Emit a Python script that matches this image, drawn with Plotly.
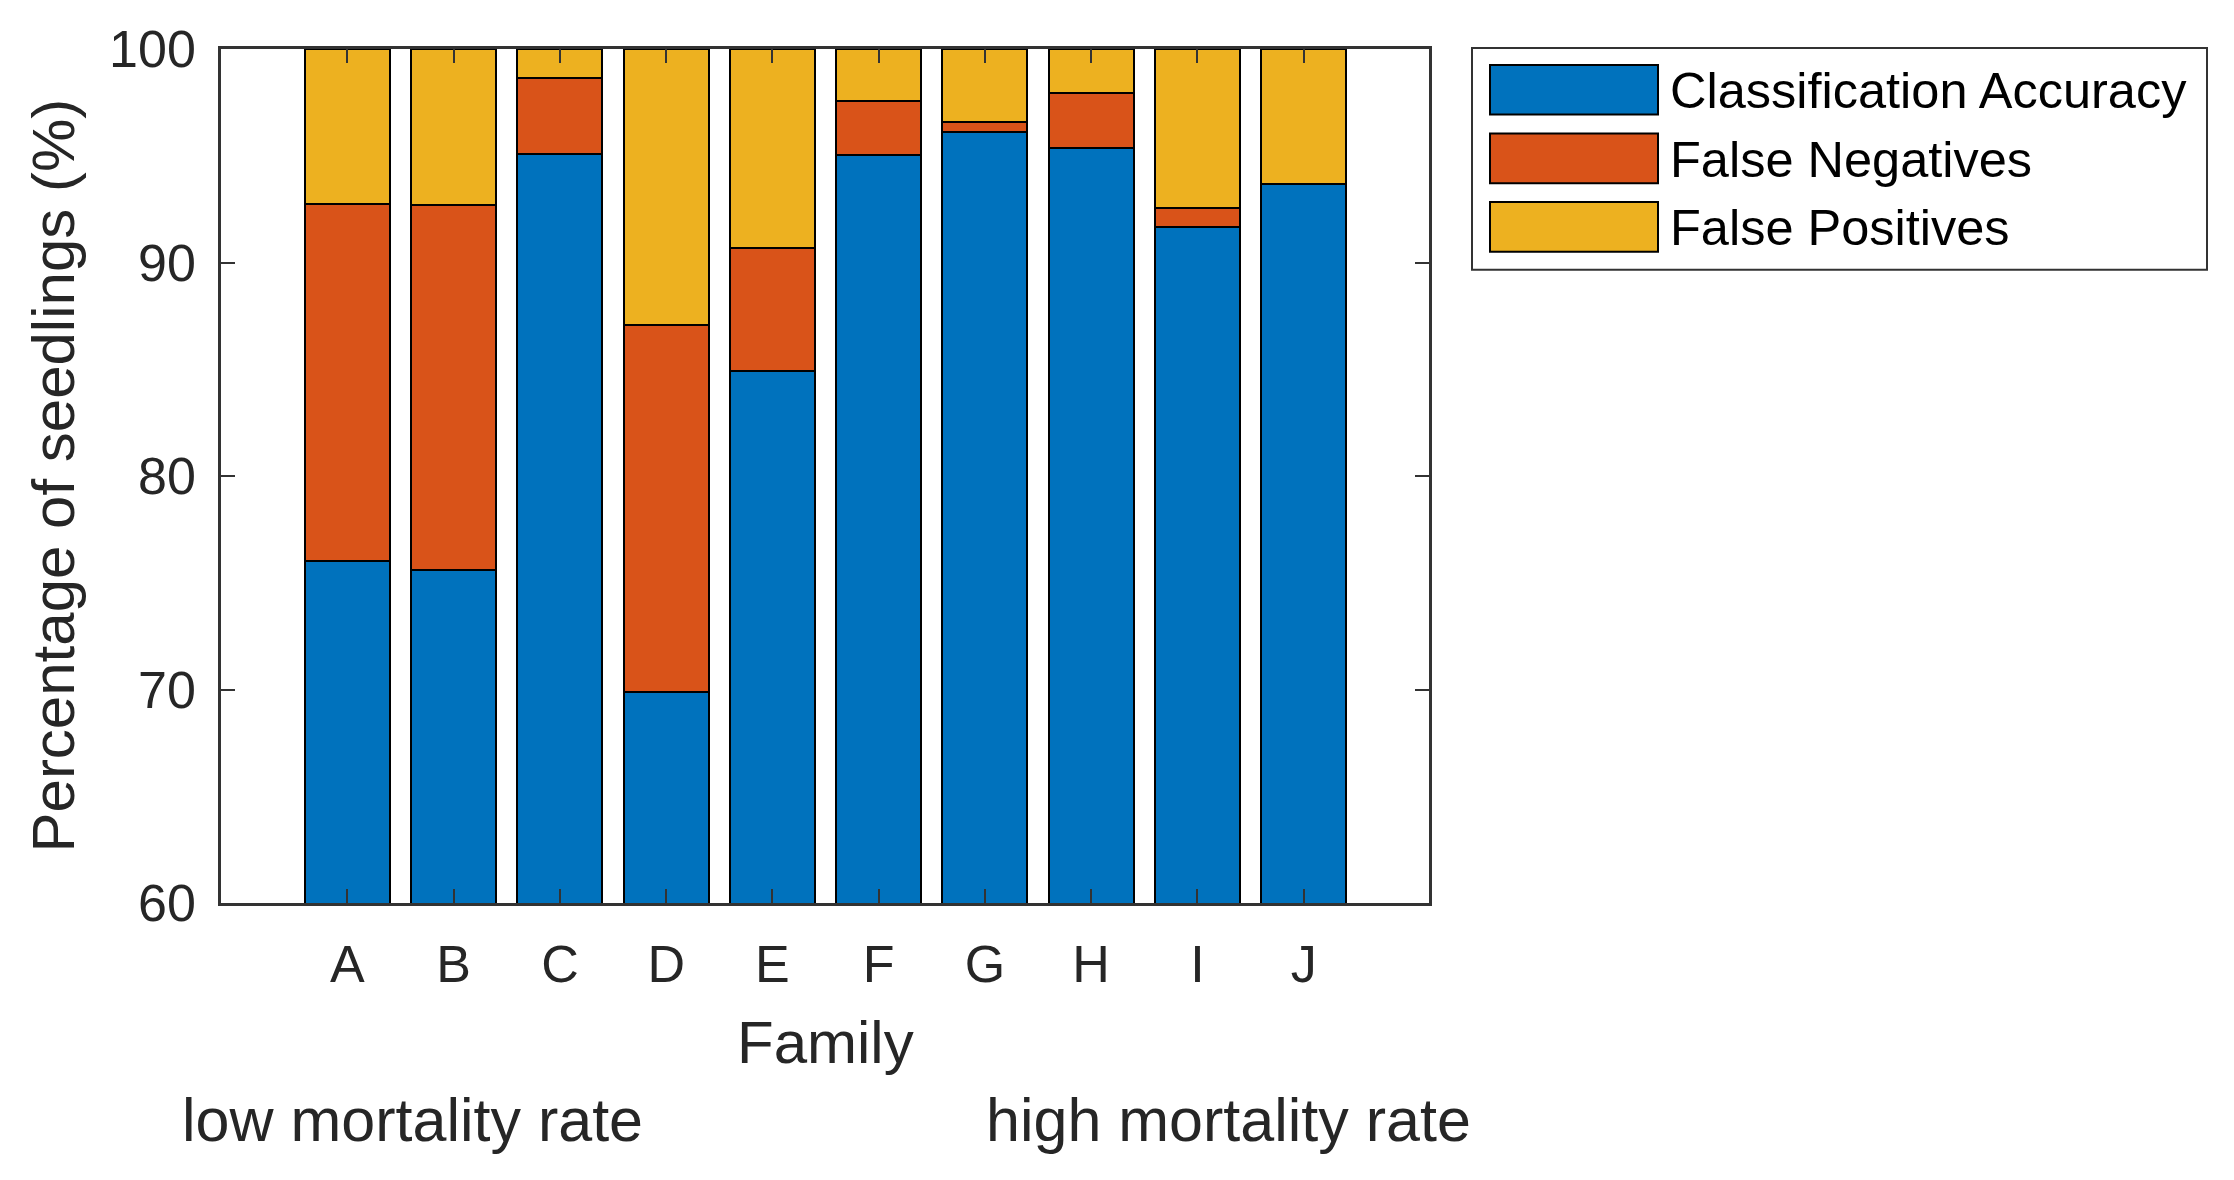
import plotly.graph_objects as go

# ---- data ----
families = ["A", "B", "C", "D", "E", "F", "G", "H", "I", "J"]
accuracy = [76.0, 75.6, 95.1, 69.9, 84.9, 95.05, 96.1, 95.35, 91.65, 93.7]
false_neg = [16.75, 17.1, 3.55, 17.15, 5.8, 2.5, 0.5, 2.6, 0.9, 0.0]
false_pos = [7.25, 7.3, 1.35, 12.95, 9.3, 2.45, 3.4, 2.05, 7.45, 6.3]
series_names = ["Classification Accuracy", "False Negatives", "False Positives"]
series_colors = ["#0072BD", "#D95319", "#EDB120"]
y_ticks = [60, 70, 80, 90, 100]
group_labels = ["low mortality rate", "high mortality rate"]

FONT = "Liberation Sans, Arial, sans-serif"
TXT = "#262626"

# ---- geometry in pixels (page body has an 8 px default margin) ----
OFF = 8
W_FIG, H_FIG = 2234 - OFF, 1180 - OFF
L, R, T, B = 221 - OFF, 1429 - OFF, 44 - OFF, 903 - OFF


def px(x):
    return (x - OFF - L) / (R - L)


def py(y):
    return (B - (y - OFF)) / (B - T)


fig = go.Figure()
for name, vals, col in zip(series_names, [accuracy, false_neg, false_pos], series_colors):
    fig.add_trace(go.Bar(
        x=families, y=vals, name=name,
        marker=dict(color=col, line=dict(color="#000000", width=2)),
        showlegend=False,
    ))

fig.update_layout(
    barmode="stack",
    bargap=0.2,
    width=W_FIG, height=H_FIG,
    margin=dict(l=L, r=W_FIG - R, t=T, b=H_FIG - B, pad=0),
    paper_bgcolor="white",
    plot_bgcolor="white",
    font=dict(family=FONT, color=TXT),
)

fig.update_xaxes(
    type="category",
    range=[-1.19, 10.18],
    showline=True, linecolor="#333333", linewidth=2.5,
    mirror="ticks",
    ticks="inside", ticklen=14, tickwidth=2, tickcolor="#333333",
    tickfont=dict(size=52, family=FONT, color=TXT),
    ticklabelstandoff=14,
    showgrid=False, zeroline=False,
)
fig.update_yaxes(
    range=[60, 100],
    tickvals=y_ticks,
    ticktext=[str(v) for v in y_ticks],
    showline=True, linecolor="#333333", linewidth=2.5,
    mirror="ticks",
    ticks="inside", ticklen=14, tickwidth=2, tickcolor="#333333",
    tickfont=dict(size=52, family=FONT, color=TXT),
    ticklabelstandoff=12,
    showgrid=False, zeroline=False,
)

annotations = []
# axis titles
annotations.append(dict(text="Family", x=px(825.5), y=py(1043), xref="paper", yref="paper",
                        xanchor="center", yanchor="middle", showarrow=False,
                        font=dict(size=60, family=FONT, color=TXT)))
annotations.append(dict(text="Percentage of seedlings (%)", x=px(54), y=py(473),
                        xref="paper", yref="paper", textangle=-90,
                        xanchor="center", yanchor="middle", showarrow=False,
                        font=dict(size=60, family=FONT, color=TXT)))
# group labels
annotations.append(dict(text=group_labels[0], x=px(180), y=py(1121.5), xref="paper", yref="paper",
                        xanchor="left", yanchor="middle", showarrow=False,
                        font=dict(size=61, family=FONT, color=TXT)))
annotations.append(dict(text=group_labels[1], x=px(984), y=py(1121.5), xref="paper", yref="paper",
                        xanchor="left", yanchor="middle", showarrow=False,
                        font=dict(size=61, family=FONT, color=TXT)))

# ---- custom legend (large swatches as in the reference) ----
shapes = []
shapes.append(dict(type="rect", xref="paper", yref="paper",
                   x0=px(1472), x1=px(2207), y0=py(266), y1=py(43),
                   line=dict(color="#333333", width=2), fillcolor="white", layer="above"))
sw_top = [60, 129, 198]
for i, (name, col) in enumerate(zip(series_names, series_colors)):
    y0 = sw_top[i]
    shapes.append(dict(type="rect", xref="paper", yref="paper",
                       x0=px(1490), x1=px(1658), y0=py(y0 + 50), y1=py(y0),
                       line=dict(color="#000000", width=2), fillcolor=col, layer="above"))
    annotations.append(dict(text=name, x=px(1668), y=py(y0 + 26), xref="paper", yref="paper",
                            xanchor="left", yanchor="middle", showarrow=False,
                            font=dict(size=50.5, family=FONT, color="#000000")))

fig.update_layout(annotations=annotations, shapes=shapes)

fig.write_html("out.html")
